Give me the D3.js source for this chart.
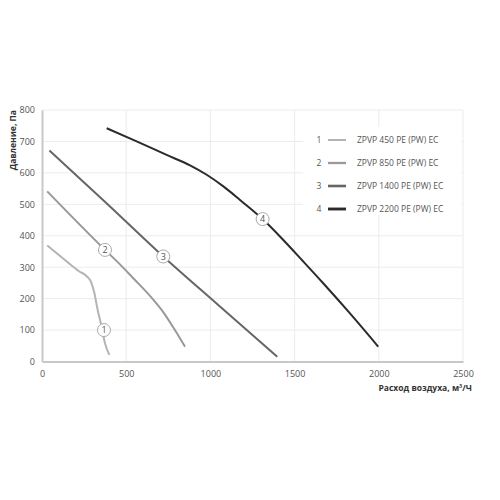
<!DOCTYPE html>
<html><head><meta charset="utf-8">
<script src="https://cdn.jsdelivr.net/npm/d3@7/dist/d3.min.js"></script>
<style>body{margin:0;background:#fff}svg{display:block}</style>
</head><body>
<svg id="c" width="500" height="500"></svg>
<script>
const xTicks = [0, 500, 1000, 1500, 2000, 2500];
const yTicks = [0, 100, 200, 300, 400, 500, 600, 700, 800];
const seriesNames = ["ZPVP 450 PE (PW) EC", "ZPVP 850 PE (PW) EC", "ZPVP 1400 PE (PW) EC", "ZPVP 2200 PE (PW) EC"];
const seriesIds = ["1", "2", "3", "4"];
const seriesColors = ["#b4b4b4", "#999999", "#666666", "#2b2b2b"];
const s1 = [[31,369],[147,318],[220,287],[262,273],[292,252],[310,220],[330,165],[354,111],[374,58],[400,21]];
const s2 = [[31,541],[374,355],[463,309],[542,265],[641,209],[720,157],[780,108],[849,47]];
const s3 = [[44,671],[380,505],[720,334],[1050,178],[1397,15]];
const s4 = [[384,742],[542,705],[740,657],[879,624],[978,594],[1077,557],[1176,514],[1310,453],[1423,392],[1550,319],[1670,249],[1829,153],[1997,47]];
const series = [s1, s2, s3, s4];
const labelPts = [[368,100],[374,355],[720,334],[1310,453]];

const svg = d3.select("#c");
const x = d3.scaleLinear().domain([0, 2500]).range([42, 463]);
const y = d3.scaleLinear().domain([0, 800]).range([361.5, 110]);
const font = "'Open Sans', 'Liberation Sans', sans-serif";

// grid
svg.append("g").selectAll("line").data(xTicks.slice(1)).join("line")
  .attr("x1", d => x(d)).attr("x2", d => x(d)).attr("y1", y(800)).attr("y2", y(0))
  .attr("stroke", "#ececec").attr("stroke-width", 1);
svg.append("g").selectAll("line").data(yTicks.slice(1)).join("line")
  .attr("x1", x(0)).attr("x2", x(2500)).attr("y1", d => y(d)).attr("y2", d => y(d))
  .attr("stroke", "#ececec").attr("stroke-width", 1);

// axes
const xa = svg.append("g").attr("transform", `translate(0,${y(0)})`)
  .call(d3.axisBottom(x).tickValues(xTicks).tickSize(0).tickPadding(9).tickFormat(d3.format("d")));
const ya = svg.append("g").attr("transform", `translate(${x(0)},0)`)
  .call(d3.axisLeft(y).tickValues(yTicks).tickSize(0).tickPadding(7).tickFormat(d3.format("d")));
[xa, ya].forEach(a => {
  a.select(".domain").attr("stroke", "#c8c8c8").attr("stroke-width", 2);
  a.selectAll("text").attr("fill", "#555").attr("font-size", 9).attr("font-family", font);
});

// lines
const line = d3.line().x(d => x(d[0])).y(d => y(d[1])).curve(d3.curveMonotoneX);
series.forEach((s, i) => {
  svg.append("path").datum(s).attr("d", line).attr("fill", "none")
    .attr("stroke", seriesColors[i]).attr("stroke-width", 2);
});

// labels
labelPts.forEach((p, i) => {
  const g = svg.append("g").attr("transform", `translate(${x(p[0])},${y(p[1])})`);
  g.append("circle").attr("r", 6.5).attr("fill", "#fff").attr("stroke", "#aaa").attr("stroke-width", 1);
  g.append("text").text(seriesIds[i]).attr("text-anchor", "middle").attr("dy", "0.35em")
    .attr("font-size", 9).attr("fill", "#555").attr("font-family", font);
});

// legend
svg.append("rect").attr("x", 303).attr("y", 127).attr("width", 158).attr("height", 88).attr("fill", "#fff");
seriesNames.forEach((n, i) => {
  const ly = 140 + i * 23;
  svg.append("text").text(seriesIds[i]).attr("x", 319).attr("y", ly).attr("dy", "0.35em")
    .attr("text-anchor", "middle").attr("font-size", 8.5).attr("fill", "#555").attr("font-family", font);
  svg.append("line").attr("x1", 328).attr("x2", 346).attr("y1", ly).attr("y2", ly)
    .attr("stroke", seriesColors[i]).attr("stroke-width", 2 + i * 0.3);
  svg.append("text").text(n).attr("x", 357).attr("y", ly).attr("dy", "0.35em")
    .attr("font-size", 8.5).attr("fill", "#555").attr("font-family", font);
});

// axis titles
svg.append("text").text("Расход воздуха, м³/Ч").attr("x", 472).attr("y", 388).attr("dy", "0.35em")
  .attr("text-anchor", "end").attr("font-weight", "bold").attr("font-size", 8.5).attr("fill", "#333").attr("font-family", font);
svg.append("text").text("Давление, Па").attr("transform", "translate(13,110) rotate(-90)").attr("dy", "0.35em")
  .attr("text-anchor", "end").attr("font-weight", "bold").attr("font-size", 8.5).attr("fill", "#333").attr("font-family", font);
</script>
</body></html>
